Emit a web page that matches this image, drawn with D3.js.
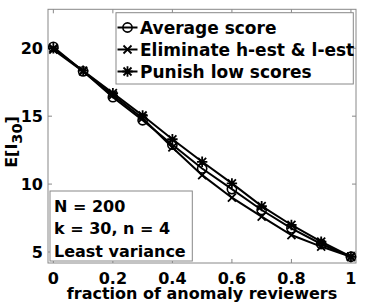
<!DOCTYPE html>
<html>
<head>
<meta charset="utf-8">
<script src="https://cdn.jsdelivr.net/npm/d3@7"></script>
<style>
  body { margin: 0; background: #fff; }
  text { font-family: "DejaVu Sans", sans-serif; font-weight: bold; }
</style>
</head>
<body>
<div id="app"></div>
<script>
const width = 378,
    height = 306;

// fraction of anomaly reviewers
const fractions = [0, 0.1, 0.2, 0.3, 0.4, 0.5, 0.6, 0.7, 0.8, 0.9, 1];
const averageScore = [20.1, 18.3, 16.4, 14.7, 12.9, 11.15, 9.63, 8.09, 6.74, 5.59, 4.65];
const eliminate = [19.9, 18.3, 16.55, 14.85, 12.7, 10.66, 9.0, 7.6, 6.25, 5.4, 4.65];
const punish = [20.0, 18.35, 16.7, 15.05, 13.3, 11.64, 10.05, 8.38, 6.99, 5.76, 4.65];

const xTicks = [0, 0.2, 0.4, 0.6, 0.8, 1];
const xTickLabels = ["0", "0.2", "0.4", "0.6", "0.8", "1"];
const yTicks = [5, 10, 15, 20];
const legendLabels = ["Average score", "Eliminate h-est & l-est", "Punish low scores"];
const noteLines = ["N = 200", "k = 30, n = 4", "Least variance"];

const box = {left: 48, right: 356, top: 9.3, bottom: 263};

var x = d3.scaleLinear().domain([-0.018, 1.017]).range([box.left, box.right]);
var y = d3.scaleLinear().domain([4.19, 22.87]).range([box.bottom, box.top]);

const svg = d3.select("#app")
    .append("svg")
    .attr("width", width)
    .attr("height", height);

// axes box with inward ticks on all four sides
svg.append("rect")
    .attr("x", box.left).attr("y", box.top)
    .attr("width", box.right - box.left).attr("height", box.bottom - box.top)
    .attr("fill", "none").attr("stroke", "#888").attr("stroke-width", 1);

const tickLen = 4;
const tickG = svg.append("g").attr("stroke", "#888").attr("stroke-width", 1);
xTicks.forEach(t => {
    tickG.append("line").attr("x1", x(t)).attr("x2", x(t)).attr("y1", box.bottom).attr("y2", box.bottom - tickLen);
    tickG.append("line").attr("x1", x(t)).attr("x2", x(t)).attr("y1", box.top).attr("y2", box.top + tickLen);
});
yTicks.forEach(t => {
    tickG.append("line").attr("y1", y(t)).attr("y2", y(t)).attr("x1", box.left).attr("x2", box.left + tickLen);
    tickG.append("line").attr("y1", y(t)).attr("y2", y(t)).attr("x1", box.right).attr("x2", box.right - tickLen);
});

// tick labels
svg.append("g").selectAll("text")
    .data(xTicks).enter()
    .append("text")
    .attr("x", d => x(d))
    .attr("y", 283.5)
    .attr("text-anchor", "middle")
    .attr("font-size", 16)
    .text((d, i) => xTickLabels[i]);

svg.append("g").selectAll("text")
    .data(yTicks).enter()
    .append("text")
    .attr("x", 43)
    .attr("y", d => y(d) + 6)
    .attr("text-anchor", "end")
    .attr("font-size", 16)
    .text(d => d);

// axis labels
svg.append("text")
    .attr("x", (box.left + box.right) / 2)
    .attr("y", 298.5)
    .attr("text-anchor", "middle")
    .attr("font-size", 16)
    .text("fraction of anomaly reviewers");

const yl = svg.append("text")
    .attr("transform", "translate(17,142) rotate(-90)")
    .attr("text-anchor", "middle")
    .attr("font-size", 16);
yl.append("tspan").text("E[I");
yl.append("tspan").attr("font-size", 14.5).attr("dy", 4.5).text("30");
yl.append("tspan").attr("dy", -4.5).text("]");

// markers
function drawMarker(g, kind, cx, cy) {
    if (kind === 0) {
        g.append("circle").attr("cx", cx).attr("cy", cy).attr("r", 4.6)
            .attr("fill", "none").attr("stroke", "#000").attr("stroke-width", 1.6);
    } else {
        const r = 4;
        const p = d3.path();
        p.moveTo(cx - r, cy - r); p.lineTo(cx + r, cy + r);
        p.moveTo(cx - r, cy + r); p.lineTo(cx + r, cy - r);
        if (kind === 2) {
            p.moveTo(cx, cy - r * 1.3); p.lineTo(cx, cy + r * 1.3);
            p.moveTo(cx - r * 1.3, cy); p.lineTo(cx + r * 1.3, cy);
        }
        g.append("path").attr("d", p.toString())
            .attr("stroke", "#000").attr("stroke-width", 1.8).attr("fill", "none");
    }
}

const series = [averageScore, eliminate, punish];
const line = d3.line()
    .x((d, i) => x(fractions[i]))
    .y(d => y(d));

const plot = svg.append("g");
series.forEach((s, k) => {
    plot.append("path")
        .attr("d", line(s))
        .attr("fill", "none")
        .attr("stroke", "#000")
        .attr("stroke-width", 2);
    s.forEach((v, i) => drawMarker(plot, k, x(fractions[i]), y(v)));
});

// legend
const legend = svg.append("g");
legend.append("rect")
    .attr("x", 116).attr("y", 12.7).attr("width", 237.3).attr("height", 71.3)
    .attr("fill", "#fff").attr("stroke", "#888").attr("stroke-width", 1);
legendLabels.forEach((lab, k) => {
    const ly = 27.5 + k * 22;
    legend.append("line")
        .attr("x1", 117.5).attr("x2", 137.5).attr("y1", ly).attr("y2", ly)
        .attr("stroke", "#000").attr("stroke-width", 2);
    drawMarker(legend, k, 127.5, ly);
    legend.append("text")
        .attr("x", 140).attr("y", ly + 6)
        .attr("font-size", 17)
        .text(lab);
});

// annotation box
const note = svg.append("g");
note.append("rect")
    .attr("x", 50).attr("y", 191).attr("width", 142.3).attr("height", 70)
    .attr("fill", "#fff").attr("stroke", "#888").attr("stroke-width", 1);
noteLines.forEach((t, i) => {
    note.append("text")
        .attr("x", 54).attr("y", 211.7 + i * 22.5)
        .attr("font-size", 16)
        .text(t);
});
</script>
</body>
</html>
